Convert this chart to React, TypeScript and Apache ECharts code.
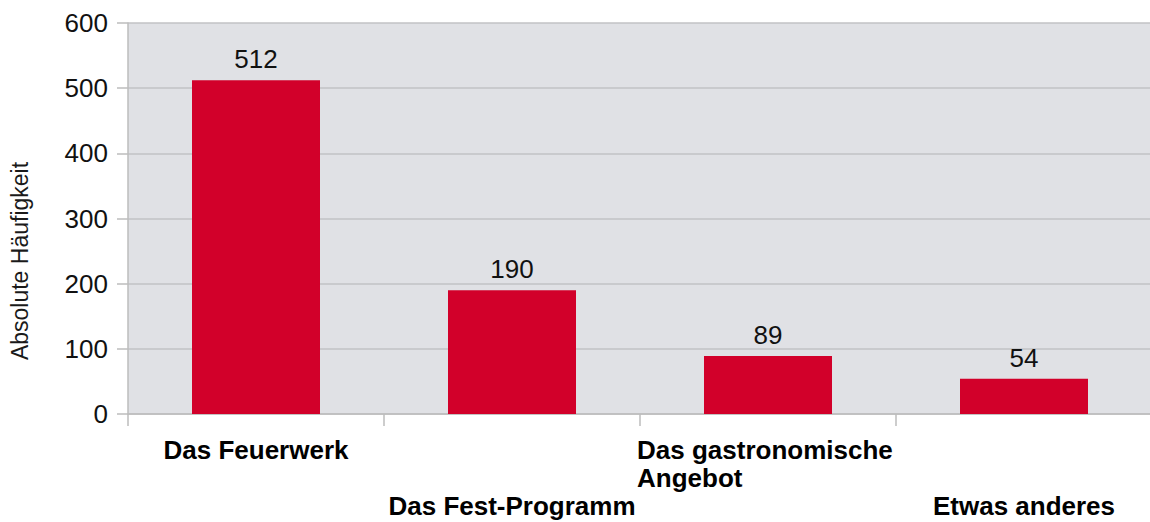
import React, { useEffect, useRef } from "react";
import * as echarts from "echarts";

const categories = ["Das Feuerwerk", "Das Fest-Programm", "Das gastronomische\nAngebot", "Etwas anderes"];
const values = [512, 190, 89, 54];
const yTicks = { min: 0, max: 600, interval: 100 };
const yAxisTitle = "Absolute Häufigkeit";

const FONT = "'Liberation Sans', Arial, sans-serif";

export default function App() {
  const ref = useRef<HTMLDivElement>(null);
  useEffect(() => {
    const chart = echarts.init(ref.current!, null, { renderer: "svg" });
    chart.setOption({
      animation: false,
      textStyle: { fontFamily: FONT },
      grid: {
        left: 128,
        right: -2,
        top: 23,
        bottom: 108,
        show: true,
        backgroundColor: "#e0e1e5",
        borderWidth: 0,
        containLabel: false,
        outerBoundsMode: "none",
      },
      graphic: [
        {
          type: "text",
          x: 20,
          y: 261,
          rotation: Math.PI / 2,
          style: {
            text: yAxisTitle,
            fontSize: 23,
            fontFamily: FONT,
            fill: "#1a1a1a",
            align: "center",
            verticalAlign: "middle",
          },
        },
      ],
      xAxis: {
        type: "category",
        data: categories,
        axisLine: { show: true, lineStyle: { color: "#bdbdbd", width: 1.5 } },
        axisTick: { show: true, length: 12, alignWithLabel: false, lineStyle: { color: "#bdbdbd", width: 1.5 } },
        axisLabel: {
          interval: 0,
          margin: 22,
          fontSize: 26,
          fontWeight: "bold",
          color: "#000",
          lineHeight: 28,
          hideOverlap: false,
          formatter: (v: string, i: number) => {
            const lines = v.split("\n");
            const style = lines.length > 1 ? "g" : "a";
            const body = lines.map((l) => `{${style}|${l}}`).join("\n");
            return i % 2 === 1 ? `{e|}\n{e|}\n${body}` : body;
          },
          rich: {
            a: {
              fontSize: 26,
              fontWeight: "bold",
              fontFamily: FONT,
              color: "#000",
              lineHeight: 28,
            },
            g: {
              fontSize: 26,
              fontWeight: "bold",
              fontFamily: FONT,
              color: "#000",
              lineHeight: 28,
              width: 262,
              align: "left",
            },
            e: { fontSize: 26, lineHeight: 28 },
          },
        },
      },
      yAxis: {
        type: "value",
        min: yTicks.min,
        max: yTicks.max,
        interval: yTicks.interval,
        axisLine: { show: true, lineStyle: { color: "#bdbdbd", width: 1.5 } },
        axisTick: { show: true, length: 11, lineStyle: { color: "#bdbdbd", width: 1.5 } },
        axisLabel: { fontSize: 26, color: "#111", margin: 20, fontFamily: FONT },
        splitLine: { show: true, lineStyle: { color: "#c2c2c4", width: 1.5 } },
      },
      series: [
        {
          type: "bar",
          data: values,
          barWidth: "50%",
          itemStyle: { color: "#d2002a" },
          label: { show: true, position: "top", distance: 8, fontSize: 26, color: "#111", fontFamily: FONT },
        },
      ],
    });
    return () => chart.dispose();
  }, []);
  return <div ref={ref} style={{ width: 1150, height: 522, position: "absolute", left: 0, top: 0 }} />;
}
